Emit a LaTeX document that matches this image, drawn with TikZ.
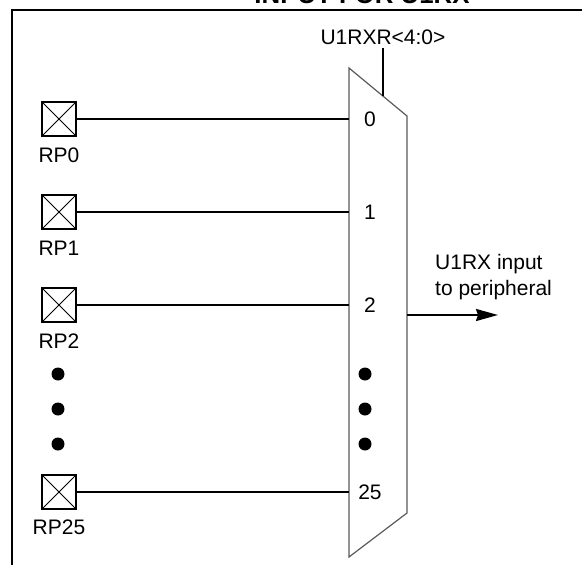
\documentclass[tikz,border=0pt]{standalone}
\usepackage{fontspec}
\setmainfont{Liberation Sans}
\usetikzlibrary{positioning,arrows.meta}

\begin{document}
\begin{tikzpicture}[x=1pt,y=-1pt,node distance=93pt,on grid,
  font=\fontsize{21}{26}\selectfont,
  pad/.style={draw,line width=2pt,minimum size=34pt,inner sep=0pt,
    path picture={\draw[line width=0.8pt]
      (path picture bounding box.south west) -- (path picture bounding box.north east)
      (path picture bounding box.north west) -- (path picture bounding box.south east);}},
  wire/.style={line width=2pt},
  mux/.style={draw=black!65,line width=1.2pt},
  dot/.style={circle,fill,inner sep=0pt,minimum size=13pt}]
  \useasboundingbox (0,0) rectangle (582,565);
  \clip (0,0) rectangle (582,565);
  \node[font=\bfseries\fontsize{25.8}{30}\selectfont,anchor=base] (title) at (362,3.5) {INPUT FOR U1RX};
  \draw[wire] (582,10) -| (12,565);
  % multiplexer
  \draw[mux] (349,68) -- (407,116) -- (407,513) -- (349,557) -- cycle;
  \coordinate (muxl) at (349,0);
  \coordinate (muxr) at (407,0);
  \coordinate (numcol) at (370,0);
  \coordinate (sel) at (383,96);
  \node (selname) at (383,37) {U1RXR<4:0>};
  \draw[wire] (selname) -- (sel);
  % pins
  \node[pad] (rp0) at (59,119) {};
  \node[pad] (rp1) [below=of rp0] {};
  \node[pad] (rp2) [below=of rp1] {};
  \node[pad] (rp25) [below=187pt of rp2] {};
  \node (rp0name) [below=36pt of rp0] {RP0};
  \node (rp1name) [below=36pt of rp1] {RP1};
  \node (rp2name) [below=36pt of rp2] {RP2};
  \node (rp25name) [below=35pt of rp25] {RP25};
  \draw[wire] (rp0) -- (rp0 -| muxl);
  \draw[wire] (rp1) -- (rp1 -| muxl);
  \draw[wire] (rp2) -- (rp2 -| muxl);
  \draw[wire] (rp25) -- (rp25 -| muxl);
  \node (in0) at (rp0 -| numcol) {0};
  \node (in1) at (rp1 -| numcol) {1};
  \node (in2) at (rp2 -| numcol) {2};
  \node (in25) at (rp25 -| numcol) {25};
  \foreach \y in {374,409,444} {
    \node[dot] at (58,\y) {};
    \node[dot] at (365,\y) {};
  }
  % output
  \coordinate (outend) at (498,315);
  \draw[wire,-{Stealth[length=22pt,width=12pt,inset=2pt]}] (outend -| muxr) -- (outend);
  \node[align=left,anchor=west,inner sep=0pt] (outname) at (435,277) {U1RX input\\to peripheral};
\end{tikzpicture}
\end{document}
